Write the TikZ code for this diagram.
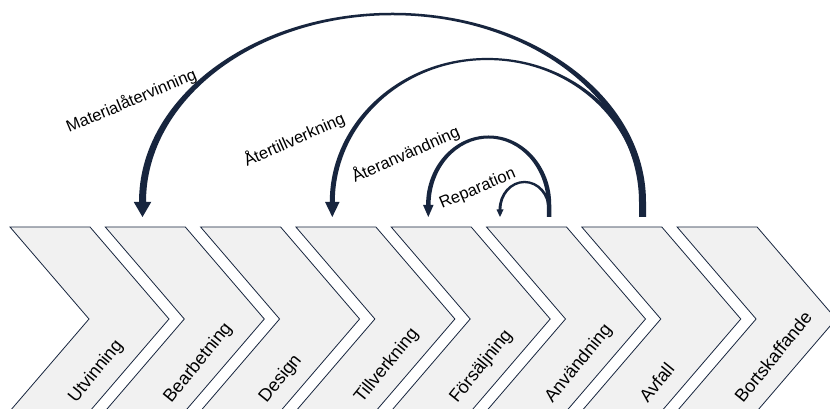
\documentclass[tikz,border=0pt]{standalone}
\usepackage{fontspec}
\setmainfont{Liberation Sans}
\usetikzlibrary{calc}

\definecolor{navy}{RGB}{23,37,62}
\definecolor{chevfill}{RGB}{241,241,241}

\tikzset{
  chevron/.style={draw=navy, line width=0.8pt, fill=chevfill, line join=miter},
  stagelabel/.style={anchor=base west, rotate=51, inner sep=0pt,
    font=\fontsize{18}{21}\selectfont, text=black},
  looplabel/.style={anchor=base west, inner sep=0pt,
    font=\fontsize{16.5}{19}\selectfont, text=black},
  bowfill/.style={fill=navy},
}

% One process stage: #1 name, #2 left x, #3 text.
% The named coordinate sits at the top-left corner of the chevron.
\newcommand{\stage}[3]{%
  \coordinate (#1) at (#2,182);
  \draw[chevron] (#1) -- ++(80,0) -- ++(79,-92) -- ++(-79,-92)
    -- ++(-80,0) -- ++(79,92) -- cycle;
  \node[stagelabel] (#1-text) at ($(#1)+(66,-177)$) {#3};
}

% Tapered bow-shaped arrow from foot #1 to tip #2.
% #3 height of the centre line above the tip, #4 width at the sides,
% #5 width at the top, #6 head width, #7 head length.
\newcommand{\bowarrow}[7]{%
  \fill[bowfill] let \p1=(#1), \p2=(#2),
      \n1={(\x1-\x2)/2}, \n2={\y2+#7}, \n3={#3-#7}
    in (\x1+#4/2,\y1) -- (\x1+#4/2,\n2)
       arc[start angle=0, end angle=180,
           x radius={(\n1+#4/2)*1pt}, y radius={(\n3+#5/2)*1pt}]
       -- (\x2+#4/2,\n2)
       arc[start angle=180, end angle=0,
           x radius={(\n1-#4/2)*1pt}, y radius={(\n3-#5/2)*1pt}]
       -- (\x1-#4/2,\y1) -- cycle
       (\x2-#6/2,\n2) -- (\x2+#6/2,\n2) -- (\x2,\y2) -- cycle;
}

\begin{document}
\begin{tikzpicture}[x=1pt, y=1pt]
  \useasboundingbox (0,0) rectangle (830,409);
  \fill[white] (0,0) rectangle (830,409);

  % the value chain
  \stage{utvinning}{10}{Utvinning}
  \stage{bearbetning}{105.3}{Bearbetning}
  \stage{design}{200.6}{Design}
  \stage{tillverkning}{295.9}{Tillverkning}
  \stage{forsaljning}{391.2}{Försäljning}
  \stage{anvandning}{486.5}{Användning}
  \stage{avfall}{581.8}{Avfall}
  \stage{bortskaffande}{677.1}{Bortskaffande}

  % arrow ends above the chevrons
  \coordinate (avfall-foot)       at ($(avfall)+(60.7,10)$);
  \coordinate (anvandning-foot)   at ($(anvandning)+(62.5,10)$);
  \coordinate (bearbetning-tip)   at ($(bearbetning)+(37.2,10)$);
  \coordinate (tillverkning-tip)  at ($(tillverkning)+(36.4,10)$);
  \coordinate (forsaljning-tip)   at ($(forsaljning)+(37.1,10)$);
  \coordinate (anvandning-tip)    at ($(anvandning)+(13.5,10)$);

  % loops back into the chain
  \bowarrow{avfall-foot}{bearbetning-tip}{203}{7}{2.5}{17.5}{15}
  \bowarrow{avfall-foot}{tillverkning-tip}{158}{5}{2.2}{14.5}{15}
  \bowarrow{anvandning-foot}{forsaljning-tip}{80}{4.5}{3}{10.5}{12}
  \bowarrow{anvandning-foot}{anvandning-tip}{35}{2.8}{2.3}{7}{7.5}

  % loop labels
  \node[looplabel, rotate=23] (lbl-material) at (69,276) {Materialåtervinning};
  \node[looplabel, rotate=24] (lbl-atertill) at (247,242) {Återtillverkning};
  \node[looplabel, rotate=24] (lbl-ateranv) at (355,226) {Återanvändning};
  \node[looplabel, rotate=23] (lbl-reparation) at (442,200) {Reparation};
\end{tikzpicture}
\end{document}
